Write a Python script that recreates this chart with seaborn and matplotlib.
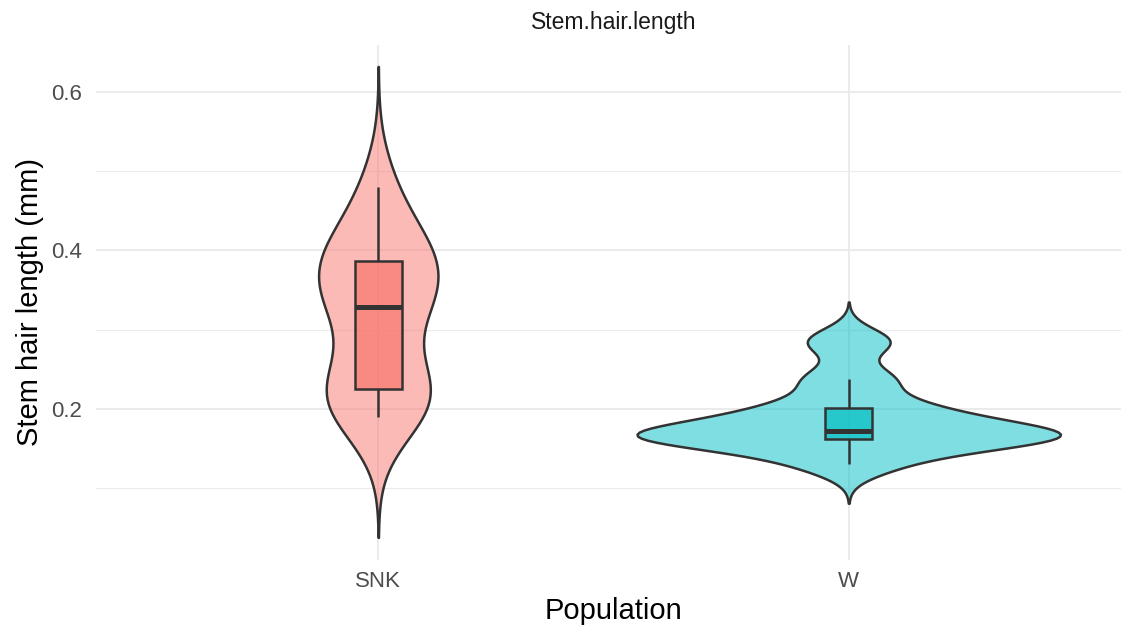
import numpy as np
import pandas as pd
import seaborn as sns
import matplotlib.pyplot as plt
import matplotlib.colors as mcolors

# ---- data ----
populations = ["SNK", "W"]
snk_length = [0.190, 0.207, 0.218, 0.225, 0.235, 0.320, 0.328,
              0.350, 0.370, 0.386, 0.400, 0.420, 0.480]
w_length = [0.131, 0.158, 0.161, 0.165, 0.168, 0.176, 0.190, 0.205, 0.238, 0.285]
fill_colors = ["#F8766D", "#00BFC4"]
y_ticks = [0.2, 0.4, 0.6]
y_tick_labels = ["0.2", "0.4", "0.6"]
y_minor = [0.1, 0.3, 0.5]

df = pd.DataFrame({
    "Population": ["SNK"] * len(snk_length) + ["W"] * len(w_length),
    "Stem.hair.length": snk_length + w_length,
})


def nrd0(kde):
    """Silverman's rule of thumb (R bw.nrd0) expressed as a scipy factor."""
    x = np.asarray(kde.dataset).ravel()
    n = x.size
    sd = np.std(x, ddof=1)
    q75, q25 = np.percentile(x, [75, 25])
    lo = min(sd, (q75 - q25) / 1.34)
    return 0.9 * lo * n ** (-0.2) / sd


sns.set_theme(style="white")
plt.rcParams["font.family"] = ["Liberation Sans", "DejaVu Sans"]

W, H = 1121, 630
fig = plt.figure(figsize=(W / 100, H / 100), dpi=100)
ax = fig.add_axes([96 / W, (H - 560) / H, 1035 / W, 515 / H])
ax.set_axisbelow(True)

palette = dict(zip(populations, fill_colors))

sns.violinplot(
    data=df, x="Population", y="Stem.hair.length", hue="Population",
    order=populations, hue_order=populations, palette=palette, saturation=1,
    inner=None, cut=3, density_norm="area", common_norm=True, width=0.9,
    bw_method=nrd0, linewidth=1.8, linecolor="#333333", legend=False, ax=ax,
)
for coll in ax.collections:
    fc = coll.get_facecolor()
    if len(fc):
        coll.set_facecolor(mcolors.to_rgba(fc[0][:3], 0.5))

sns.boxplot(
    data=df, x="Population", y="Stem.hair.length", hue="Population",
    order=populations, hue_order=populations, palette=palette, saturation=1,
    width=0.1, showfliers=False, showcaps=False, linewidth=1.8,
    linecolor="#333333", medianprops={"linewidth": 3.6},
    legend=False, ax=ax,
)
for p in ax.patches:
    fc = p.get_facecolor()
    p.set_facecolor(mcolors.to_rgba(fc[:3], 0.7))

ax.set_xlim(-0.6, 1.6)
ax.set_ylim(0.0095, 0.659)
ax.set_yticks(y_ticks)
ax.set_yticklabels(y_tick_labels)
ax.set_yticks(y_minor, minor=True)

ax.grid(False)
ax.yaxis.grid(True, which="major", color="#EBEBEB", linewidth=1.4)
ax.yaxis.grid(True, which="minor", color="#EBEBEB", linewidth=0.8)
ax.xaxis.grid(True, which="major", color="#EBEBEB", linewidth=1.4)
for s in ax.spines.values():
    s.set_visible(False)

ax.tick_params(axis="both", which="both", length=0, labelsize=16,
               labelcolor="#4D4D4D")
ax.tick_params(axis="y", pad=10)
ax.tick_params(axis="x", pad=8)

ax.set_xlabel("Population", fontsize=21, color="black")
ax.xaxis.set_label_coords(0.5, -0.072)
ax.set_ylabel("Stem hair length (mm)", fontsize=21, color="black")
ax.yaxis.set_label_coords(-0.0502, 0.5)
ax.set_title("Stem.hair.length", fontsize=16.5, color="#1A1A1A", pad=11.5)

fig.savefig("out.png", dpi=100, facecolor="white")
